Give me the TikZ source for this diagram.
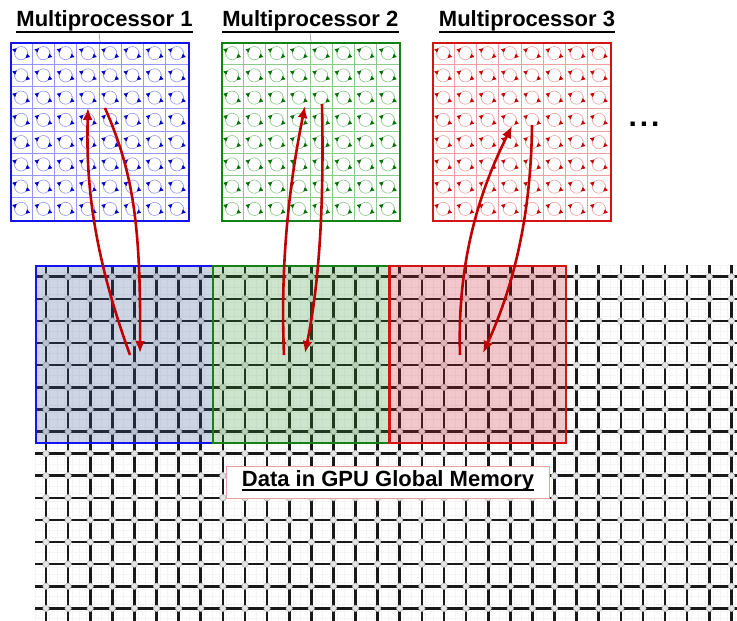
\documentclass[tikz,border=0pt]{standalone}
\usepackage{fontspec}
\setmainfont{Liberation Sans}
\usetikzlibrary{arrows.meta}

\definecolor{mpblue}{RGB}{20,20,240}
\definecolor{mpbluelt}{RGB}{150,150,250}
\definecolor{mpbluedk}{RGB}{0,0,200}
\definecolor{mpgreen}{RGB}{20,130,20}
\definecolor{mpgreenlt}{RGB}{140,200,140}
\definecolor{mpgreendk}{RGB}{0,110,0}
\definecolor{mpred}{RGB}{210,20,20}
\definecolor{mpredlt}{RGB}{240,160,160}
\definecolor{mpreddk}{RGB}{200,0,0}
\definecolor{tintblue}{RGB}{61,90,153}
\definecolor{tintgreen}{RGB}{51,153,51}
\definecolor{tintred}{RGB}{204,34,51}
\definecolor{flowred}{RGB}{192,0,0}
\definecolor{labelframe}{RGB}{232,160,160}

\begin{document}
\begin{tikzpicture}[x=1pt,y=-1pt,
  faint/.style={draw=black!4,line width=0.6pt},
  memline/.style={draw=black!90,line width=2.6pt},
  memdot/.style={circle,fill=black!10,draw=black!30,line width=0.5pt,inner sep=0pt,minimum size=6.4pt},
  memblock/.style={draw=mp#1,line width=2.4pt,fill=tint#1,fill opacity=0.25,
    minimum width=176.6pt,minimum height=177pt,anchor=north west,inner sep=0pt},
  mpbox/.style={draw=mp#1,line width=2.2pt,minimum size=178pt,anchor=north west,inner sep=0pt},
  cellline/.style={draw=mp#1lt,line width=0.7pt},
  ring/.style={draw=mp#1lt,line width=0.6pt},
  spin/.style={draw=mp#1lt,line width=0.6pt,-{Triangle[length=4pt,width=4.2pt,color=mp#1dk]}},
  title/.style={font=\fontsize{22}{26}\selectfont\bfseries,inner sep=0pt,anchor=base},
  uline/.style={draw=black,line width=1.8pt},
  tick/.style={draw=black!45,line width=0.6pt},
  flow/.style={draw=flowred,line width=2.6pt,-{Latex[length=12pt,width=10pt]}},
  labelbox/.style={draw=labelframe,line width=0.7pt,fill=white,minimum width=323pt,minimum height=32pt,inner sep=0pt}
]
\useasboundingbox (0,0) rectangle (737,621);

% ---------- global memory: fine background grid ----------
\foreach \i in {0,...,95}
  \draw[faint] ({35+\i*7.37},265) -- ({35+\i*7.37},621);
\foreach \j in {0,...,48}
  \draw[faint] (35,{265+\j*7.37}) -- (737,{265+\j*7.37});

% ---------- global memory: element grid ----------
\foreach \k in {0,...,31}
  \draw[memline] ({46+\k*22.11},265) -- ({46+\k*22.11},621);
\foreach \k in {0,...,15}
  \draw[memline] (35,{276.7+\k*22.11}) -- (737,{276.7+\k*22.11});
\foreach \k in {0,...,31}
  \foreach \l in {0,...,15}
    \node[memdot] at ({46+\k*22.11},{276.7+\l*22.11}) {};

% ---------- blocks of memory handled by each multiprocessor ----------
\node[memblock=blue]  (blkA) at (35,265)  {};
\node[memblock=green] (blkB) at (211.6,265) {};
\node[memblock=red]   (blkC) at (388.2,265) {};

% ---------- label ----------
\node[labelbox] (lblbox) at (387.7,482) {};
\node[title] (lbl) at (388,486.7) {Data in GPU Global Memory};
\draw[uline] ([yshift=-3.6pt]lbl.base west) -- ([yshift=-3.6pt]lbl.base east);

% ---------- multiprocessors ----------
\foreach \c/\x/\n in {blue/10/1, green/221/2, red/432/3}{
  \foreach \i in {1,...,7}{
    \draw[cellline=\c] ({\x+\i*22.25},42) -- ({\x+\i*22.25},220);
    \draw[cellline=\c] (\x,{42+\i*22.25}) -- ({\x+178},{42+\i*22.25});
  }
  \foreach \i in {0,...,7}
    \foreach \j in {0,...,7}{
      \draw[ring=\c] ({\x+(\i+0.5)*22.25},{42+(\j+0.5)*22.25}) circle (6.6);
      \draw[spin=\c] ({\x+(\i+0.5)*22.25},{42+(\j+0.5)*22.25}) ++(160:6.6) arc (160:228:6.6);
      \draw[spin=\c] ({\x+(\i+0.5)*22.25},{42+(\j+0.5)*22.25}) ++(-20:6.6) arc (-20:48:6.6);
    }
  \node[mpbox=\c] (mp\n) at (\x,42) {};
}

% ---------- titles ----------
\node[title] (t1) at (104.5,26.7) {Multiprocessor 1};
\node[title] (t2) at (310.3,26.7) {Multiprocessor 2};
\node[title] (t3) at (527,26.7) {Multiprocessor 3};
\foreach \n in {1,2,3}
  \draw[uline] ([yshift=-5pt]t\n.base west) -- ([yshift=-5pt]t\n.base east);
\coordinate (u1) at (99,33);
\coordinate (u2) at (310,33);
\draw[tick] (u1) -- (mp1.north);
\draw[tick] (u2) -- (mp2.north);

\node[font=\fontsize{30}{34}\selectfont\bfseries,inner sep=0pt,anchor=base] (more) at (644,126) {.\kern3pt.\kern3pt.};

% ---------- transfers between memory and multiprocessors ----------
\coordinate (a1s) at (130,355);  \coordinate (a1e) at (88,108);
\coordinate (b1s) at (105,108);  \coordinate (b1e) at (140,353);
\coordinate (a2s) at (284,355);  \coordinate (a2e) at (305,106);
\coordinate (b2s) at (322,104);  \coordinate (b2e) at (305,353);
\coordinate (a3s) at (460,355);  \coordinate (a3e) at (512,126);
\coordinate (b3s) at (532,125);  \coordinate (b3e) at (483,353);

\draw[flow] (a1s) .. controls (92,250) and (86,180) .. (a1e);
\draw[flow] (b1s) .. controls (132,170) and (141,220) .. (b1e);
\draw[flow] (a2s) .. controls (280,260) and (290,180) .. (a2e);
\draw[flow] (b2s) .. controls (324,200) and (320,280) .. (b2e);
\draw[flow] (a3s) .. controls (457,260) and (480,190) .. (a3e);
\draw[flow] (b3s) .. controls (531,220) and (512,290) .. (b3e);
\end{tikzpicture}
\end{document}
